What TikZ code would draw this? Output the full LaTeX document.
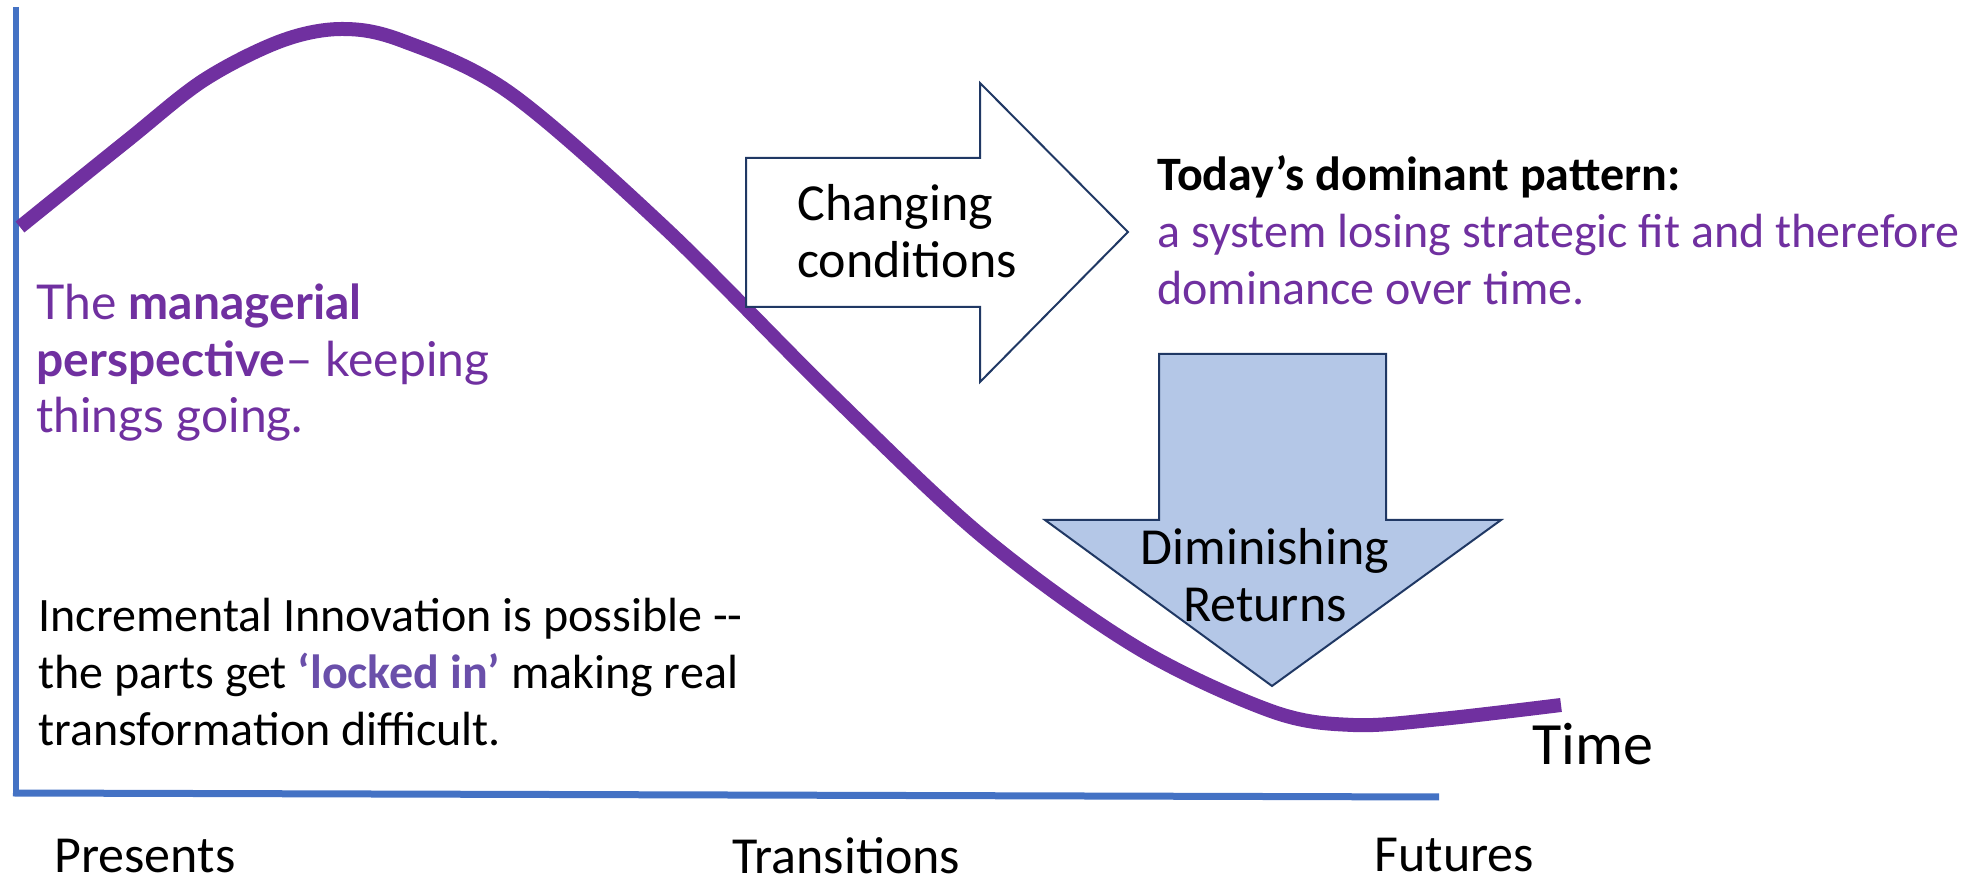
\documentclass[tikz,border=0pt]{standalone}
\usepackage{fontspec}
\setmainfont{Carlito}
\newfontfamily\latofont{Lato}
\usepackage{tikz}
\definecolor{curvepurple}{HTML}{7030A0}
\definecolor{axisblue}{HTML}{4472C4}
\definecolor{arrowline}{HTML}{203864}
\definecolor{arrowfill}{HTML}{B4C7E7}
\definecolor{lockpurple}{HTML}{6A4FAA}
\tikzset{
  bigtext/.style={font=\fontsize{26}{28.5}\selectfont, inner sep=0pt, align=left},
  bodytext/.style={font=\fontsize{24}{28.5}\selectfont, inner sep=0pt, align=left},
}
\begin{document}
\begin{tikzpicture}[x=50pt,y=50pt]
        \useasboundingbox (0,0) rectangle (19.88,8.83);
        \draw [axisblue, line width=3pt]   (0.16,8.76) -- (0.16,0.88);       % value axis
        \draw [axisblue, line width=3.5pt] (0.13,0.90) -- (14.39,0.86);      % time axis
        \draw [curvepurple, line width=7pt] plot [smooth, tension=0.55] coordinates
              {(0.20,6.56) (1.28,7.43) (2.04,8.03) (2.81,8.42) (3.42,8.54) (4.03,8.42)
               (5.10,7.90) (6.65,6.55) (8.30,4.90) (9.83,3.46) (11.36,2.36) (12.71,1.72)
               (13.53,1.58) (14.41,1.64) (15.61,1.78)};                      % S-curve
        \draw [arrowline, line width=1pt, fill=white] (7.46,7.25) -- (9.80,7.25) -- (9.80,8.00)
              -- (11.28,6.51) -- (9.80,5.01) -- (9.80,5.76) -- (7.46,5.76) -- cycle; % right arrow
        \draw [arrowline, line width=1pt, fill=arrowfill] (11.59,5.29) -- (13.86,5.29) -- (13.86,3.63)
              -- (15.01,3.63) -- (12.72,1.97) -- (10.45,3.63) -- (11.59,3.63) -- cycle; % down arrow

        %% multi-line nodes sit on the baseline of their last line
        \node [bigtext, anchor=base west] (changing) at (7.97,6.05) {Changing\\conditions};
        \node [bigtext, anchor=base, align=center] (returns) at (12.65,2.61) {Diminishing\\Returns};
        \node [bodytext, anchor=base west] (pattern) at (11.57,5.78)
              {\textbf{Today’s dominant pattern:}\\
               \textcolor{curvepurple}{a system losing strategic fit and therefore}\\
               \textcolor{curvepurple}{dominance over time.}};
        \node [bodytext, anchor=base west, text=curvepurple, font=\latofont\fontsize{24}{28.25}\selectfont]
              (managerial) at (0.36,4.50)
              {The \textbf{managerial}\\\textbf{perspective}– keeping\\things going.};
        \node [bodytext, anchor=base west] (incremental) at (0.38,1.37)
              {Incremental Innovation is possible -{}-\\
               the parts get \textcolor{lockpurple}{\textbf{‘locked in’}} making real\\
               transformation difficult.};
        \node [font=\fontsize{30}{33}\selectfont, inner sep=0pt, anchor=base west] (time) at (15.32,1.18) {Time};
        \node [bigtext, anchor=base west] (presents) at (0.54,0.10) {Presents};
        \node [bigtext, anchor=base west] (transitions) at (7.32,0.09) {Transitions};
        \node [bigtext, anchor=base west] (futures) at (13.74,0.11) {Futures};
\end{tikzpicture}
\end{document}
